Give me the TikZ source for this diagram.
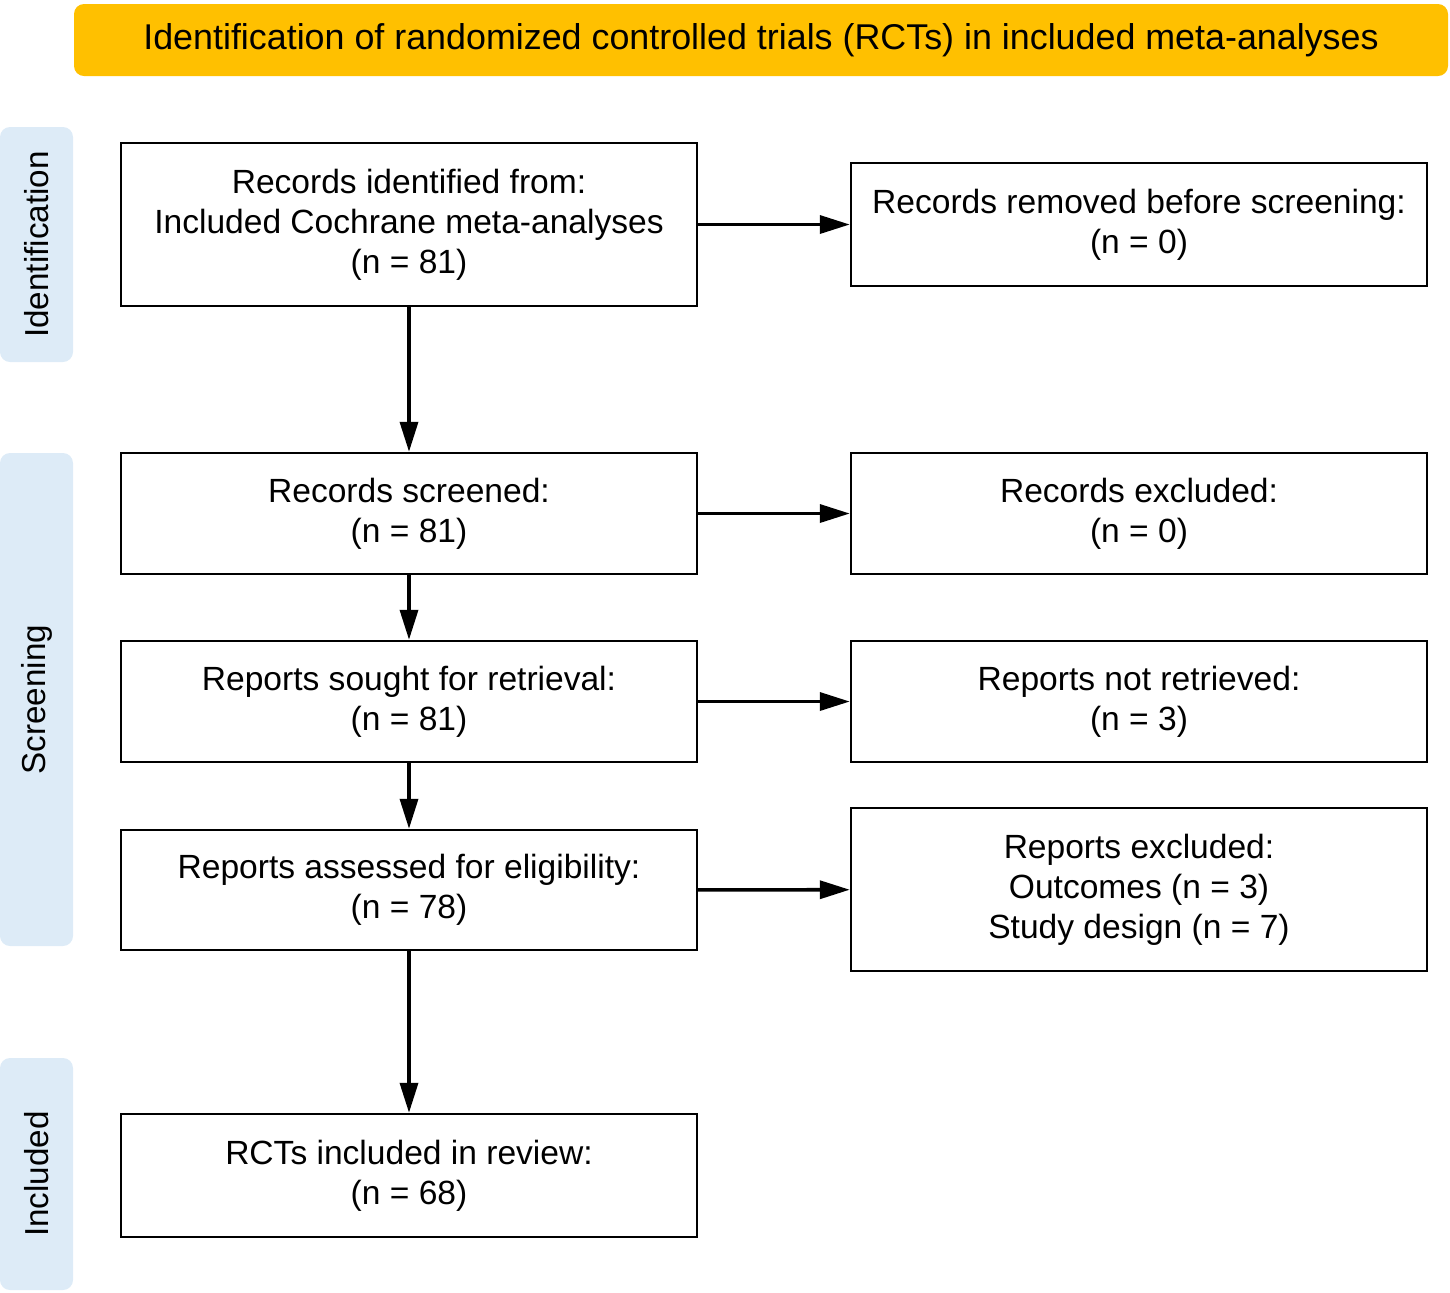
\documentclass[tikz,border=0pt]{standalone}
\usepackage{fontspec}
\setmainfont{Liberation Sans}
\usepackage{xcolor}
\usetikzlibrary{positioning,calc,arrows.meta}
\definecolor{titlegold}{HTML}{FFC000}
\definecolor{phaseblue}{HTML}{DDEBF7}

\begin{document}
\begin{tikzpicture}[
    box/.style={draw=black, line width=0.7pt, fill=white, minimum width=5.76cm, align=center, font=\fontsize{9.55}{11.4}\selectfont},
    phase/.style={fill=phaseblue, rounded corners=0.1cm, minimum width=0.73cm, inner sep=0pt},
    phasetext/.style={rotate=90, font=\fontsize{9.45}{11.4}\selectfont},
    flow/.style={-{Triangle[length=0.3cm, width=0.18cm]}, line width=1pt}
  ]
    \useasboundingbox (0,0) rectangle (14.5,-12.92);

    % Title bar
    \node[fill=titlegold, rounded corners=0.1cm, minimum width=13.74cm, minimum height=0.72cm, font=\fontsize{10.2}{12}\selectfont] (title) at (7.61,-0.40) {Identification of randomized controlled trials (RCTs) in included meta-analyses};

    % Phase labels
    \node[phase, minimum height=2.35cm] (idn) at (0.365,-2.445) {};
    \node[phasetext] at (idn) {Identification};
    \node[phase, minimum height=4.93cm] (scr) at (0.365,-6.995) {};
    \node[phasetext] at (scr) {Screening};
    \node[phase, minimum height=2.32cm] (inc) at (0.365,-11.74) {};
    \node[phasetext] at (inc) {Included};

    % Main column
    \node[box, minimum height=1.63cm] (ident) at (4.09,-2.245) {Records identified from:\\Included Cochrane meta-analyses\\(n = 81)};
    \node[box, minimum height=1.21cm] (screen) at (4.09,-5.135) {Records screened:\\(n = 81)};
    \node[box, minimum height=1.21cm] (sought) at (4.09,-7.015) {Reports sought for retrieval:\\(n = 81)};
    \node[box, minimum height=1.20cm] (assess) at (4.09,-8.90) {Reports assessed for eligibility:\\(n = 78)};
    \node[box, minimum height=1.23cm] (incl) at (4.09,-11.755) {RCTs included in review:\\(n = 68)};

    % Side column
    \node[box, minimum height=1.23cm] (removed) at (11.39,-2.245) {Records removed before screening:\\(n = 0)};
    \node[box, minimum height=1.21cm] (excl) at (11.39,-5.135) {Records excluded:\\(n = 0)};
    \node[box, minimum height=1.21cm] (notret) at (11.39,-7.015) {Reports not retrieved:\\(n = 3)};
    \node[box, minimum height=1.63cm] (repexcl) at (11.39,-8.895) {Reports excluded:\\Outcomes (n = 3)\\Study design (n = 7)};

    % Arrows down
    \draw[flow] (ident) -- (screen);
    \draw[flow] (screen) -- (sought);
    \draw[flow] (sought) -- (assess);
    \draw[flow] (assess) -- (incl);

    % Arrows across
    \draw[flow] (ident) -- (removed);
    \draw[flow] (screen) -- (excl);
    \draw[flow] (sought) -- (notret);
    \draw[flow] (assess) -- (repexcl);
\end{tikzpicture}
\end{document}
